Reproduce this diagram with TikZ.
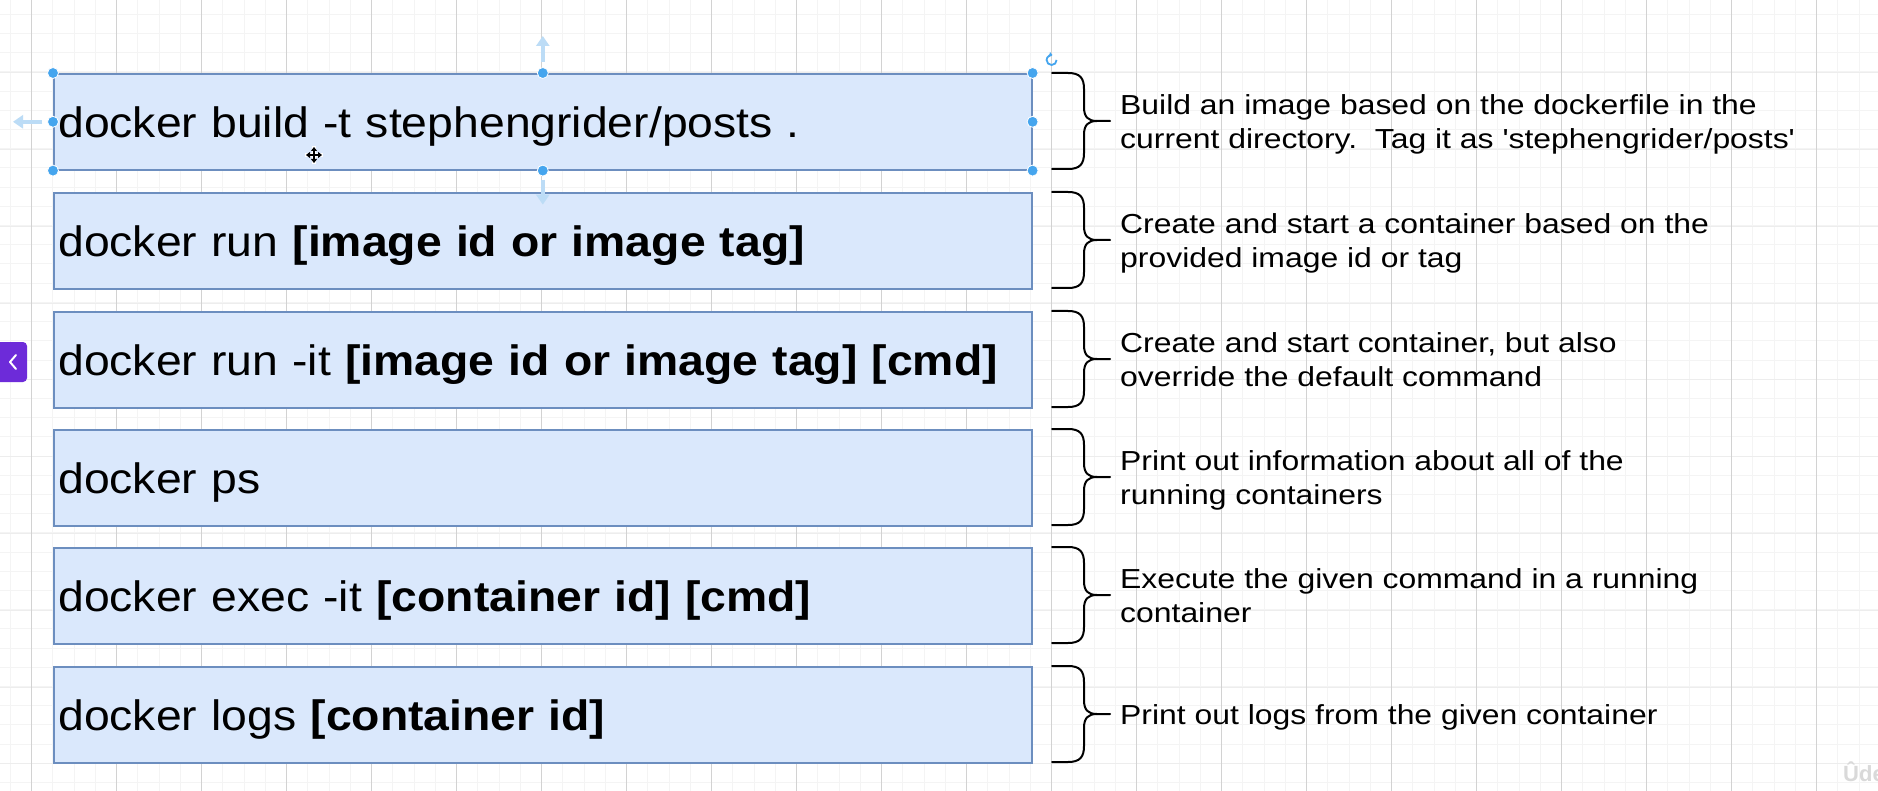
\documentclass[tikz,border=0pt]{standalone}
\usepackage{fontspec}
\setmainfont{Liberation Sans}
\newfontfamily\cmdfamily[FakeStretch=1.09]{Liberation Sans}
\newfontfamily\descfamily[FakeStretch=1.16,Ligatures=TeXOff]{Liberation Sans}
\usetikzlibrary{arrows.meta,calc}
\definecolor{boxfill}{HTML}{DAE8FC}
\definecolor{boxline}{HTML}{6C8EBF}
\definecolor{gridminor}{HTML}{F4F4F4}
\definecolor{gridmajorh}{HTML}{EDEDED}
\definecolor{gridmajorv}{HTML}{D2D2D2}
\definecolor{handle}{HTML}{45A5EE}
\definecolor{handlearrow}{HTML}{BCDCF6}
\definecolor{tabpurple}{HTML}{6D2BD9}
\begin{document}
\begin{tikzpicture}[x=1pt,y=-1pt,
  cmdbox/.style={draw=boxline, fill=boxfill, line width=1.6pt, rectangle,
    anchor=north west, minimum height=96pt, text width=969pt, inner xsep=4.5pt,
    inner ysep=0pt, align=left, text height=35pt, text depth=4pt,
    font=\cmdfamily\fontsize{42.5}{51}\selectfont},
  desc/.style={anchor=base west, align=left, inner sep=0pt,
    font=\descfamily\fontsize{27.5}{33.4}\selectfont},
  brace/.style={draw=black, line width=2pt, line join=round, line cap=round},
  hdot/.style={fill=handle, draw=white, line width=0.8pt},
  harrow/.style={draw=handlearrow, line width=3.5pt, -{Triangle[width=13pt,length=10pt]}},
  gminor/.style={draw=gridminor, line width=1pt},
  gmajh/.style={draw=gridmajorh, line width=1pt},
  gmajv/.style={draw=gridmajorv, line width=1.2pt}]
\useasboundingbox (0,0) rectangle (1878,791);
\fill[white] (0,0) rectangle (1878,791);
% grid
\foreach \i in {0,...,88} \draw[gminor] ({10.45+21.25*\i},0) -- ({10.45+21.25*\i},791);
\foreach \i in {0,...,41} \draw[gminor] (0,{14.4+19.2*\i}) -- (1878,{14.4+19.2*\i});
\foreach \i in {0,...,9} \draw[gmajh] (0,{72.7+76.8*\i}) -- (1878,{72.7+76.8*\i});
\foreach \i in {0,...,21} \draw[gmajv] ({31.7+85*\i},0) -- ({31.7+85*\i},791);
% command boxes
\node[cmdbox] (b1) at (53,73) {docker build -t stephengrider/posts .};
\node[cmdbox] (b2) at (53,192) {docker run \textbf{[image id or image tag]}};
\node[cmdbox] (b3) at (53,311) {docker run -it \textbf{[image id or image tag] [cmd]}};
\node[cmdbox] (b4) at (53,429) {docker ps};
\node[cmdbox] (b5) at (53,547) {docker exec -it \textbf{[container id] [cmd]}};
\node[cmdbox] (b6) at (53,666) {docker logs \textbf{[container id]}};
% braces
\foreach \T in {73,192,311,429,547,666} {
  \draw[brace] (1052,\T) -- (1068,\T) .. controls (1080,\T) and (1084,\T+5) .. (1084,\T+16)
     -- (1084,\T+34) .. controls (1084,\T+44) and (1088,\T+48) .. (1097,\T+48) -- (1110,\T+48);
  \draw[brace] (1097,\T+48) .. controls (1088,\T+48) and (1084,\T+52) .. (1084,\T+62)
     -- (1084,\T+80) .. controls (1084,\T+91) and (1080,\T+96) .. (1068,\T+96) -- (1052,\T+96);
}
% descriptions (base anchor = baseline of the last line)
\node[desc] (d1) at (1120,148.2) {Build an image based on the dockerfile in the\\current directory.\ \ Tag it as 'stephengrider/posts'};
\node[desc] (d2) at (1120,267.2) {Create and start a container based on the\\provided image id or tag};
\node[desc] (d3) at (1120,386.2) {Create and start container, but also\\override the default command};
\node[desc] (d4) at (1120,504.2) {Print out information about all of the\\running containers};
\node[desc] (d5) at (1120,622.2) {Execute the given command in a running\\container};
\node[desc] (d6) at (1120,724.3) {Print out logs from the given container};
% selection handles on first box
\draw[harrow] ($(b1.north)+(0,-11)$) -- ($(b1.north)+(0,-37)$);
\draw[harrow] ($(b1.south)+(0,9)$) -- ($(b1.south)+(0,34)$);
\draw[harrow] ($(b1.west)+(-11,0)$) -- ($(b1.west)+(-40,0)$);
\foreach \a in {north west,north,north east,west,east,south west,south,south east}
  \filldraw[hdot] (b1.\a) circle (5.5);
\draw[handle, line width=1.8pt, -{Triangle[width=5pt,length=3pt]}]
  ($(b1.north east)+(24,-13)$) arc[start angle=0, end angle=280, radius=5];
% mouse cursor
\draw[white, line width=3.5pt] (305,155) -- (323,155) (314,146) -- (314,164);
\draw[black, line width=1.3pt, {Triangle[width=6pt,length=4pt]}-{Triangle[width=6pt,length=4pt]}] (306,155) -- (322,155);
\draw[black, line width=1.3pt, {Triangle[width=6pt,length=4pt]}-{Triangle[width=6pt,length=4pt]}] (314,147) -- (314,163);
% side tab
\fill[tabpurple, rounded corners=4pt] (-6,342) rectangle (27,382);
\draw[white, line width=2pt, line cap=round, line join=round] (16,355) -- (10,362) -- (16,369);
% watermark
\node[anchor=base west, inner sep=0pt, text=gray!30, font=\bfseries\fontsize{22}{22}\selectfont] (wm) at (1843,781) {Ûde};
\end{tikzpicture}
\end{document}
